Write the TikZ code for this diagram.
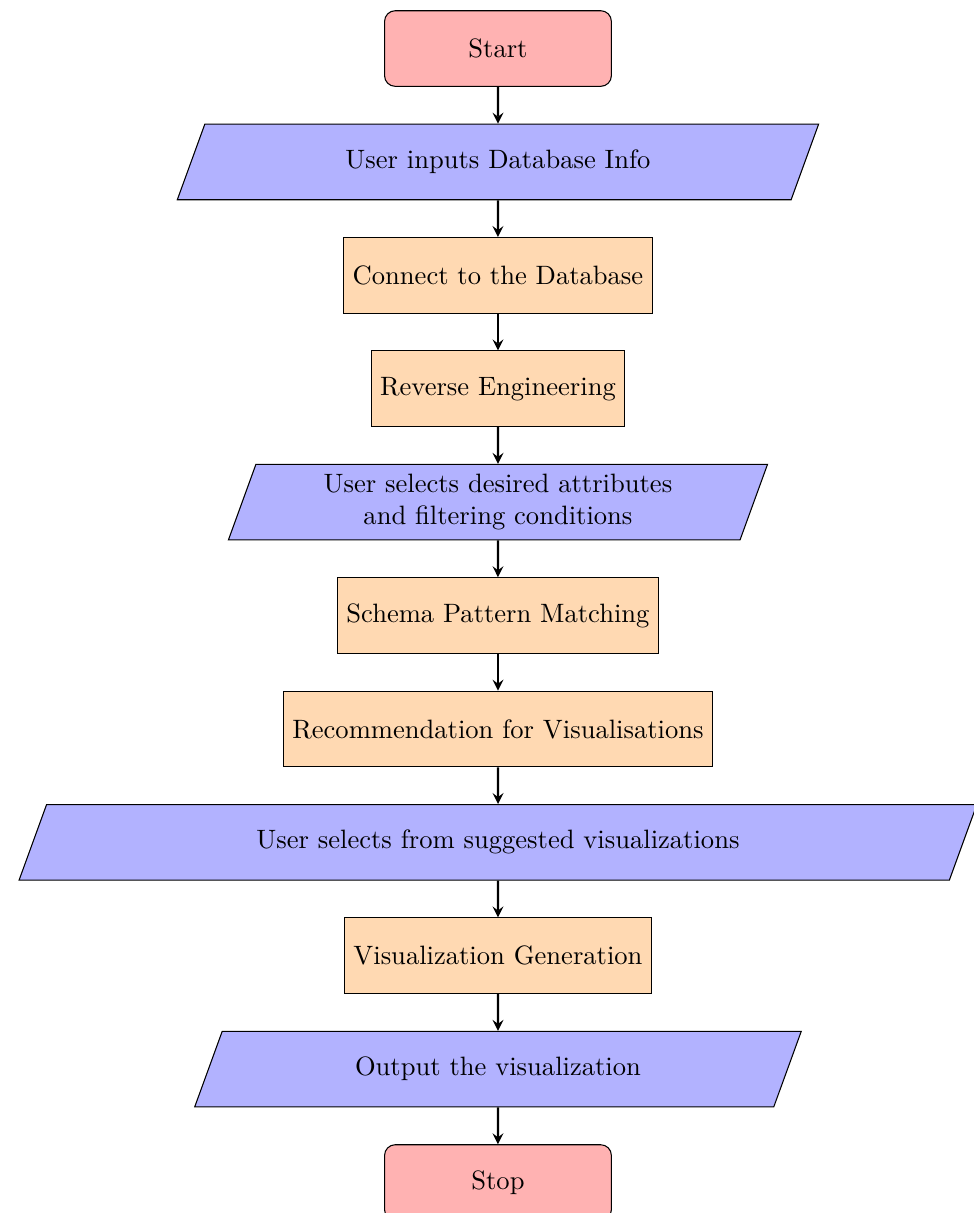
\documentclass[tikz,border=0pt]{standalone}
\usetikzlibrary{shapes.geometric,arrows,positioning}

\tikzset{
  startstop/.style={rectangle, rounded corners, minimum width=3cm, minimum height=1cm,
    text centered, draw=black, fill=red!30},
  io/.style={trapezium, trapezium left angle=70, trapezium right angle=110,
    minimum width=3cm, minimum height=1cm, text centered, align=center,
    draw=black, fill=blue!30},
  process/.style={rectangle, minimum width=3cm, minimum height=1cm,
    text centered, draw=black, fill=orange!30},
  arrow/.style={thick, ->, >=stealth}
}

\begin{document}
\begin{tikzpicture}[node distance=1.5cm]
\useasboundingbox (-6.587,0.642) rectangle (6.296,-15.403);

\node (start) [startstop] {Start};
\node (in1) [io, below of=start] {User inputs Database Info};
\node (pro1) [process, below of=in1] {Connect to the Database};
\node (pro2) [process, below of=pro1] {Reverse Engineering};
\node (in2) [io, text width=6cm, below of=pro2] {User selects desired attributes\\and filtering conditions};
\node (pro3) [process, below of=in2] {Schema Pattern Matching};
\node (pro4) [process, below of=pro3] {Recommendation for Visualisations};
\node (in3) [io, below of=pro4] {User selects from suggested visualizations};
\node (pro5) [process, below of=in3] {Visualization Generation};
\node (out1) [io, below of=pro5] {Output the visualization};
\node (stop) [startstop, below of=out1] {Stop};

\draw [arrow] (start) -- (in1);
\draw [arrow] (in1) -- (pro1);
\draw [arrow] (pro1) -- (pro2);
\draw [arrow] (pro2) -- (in2);
\draw [arrow] (in2) -- (pro3);
\draw [arrow] (pro3) -- (pro4);
\draw [arrow] (pro4) -- (in3);
\draw [arrow] (in3) -- (pro5);
\draw [arrow] (pro5) -- (out1);
\draw [arrow] (out1) -- (stop);
\end{tikzpicture}
\end{document}
